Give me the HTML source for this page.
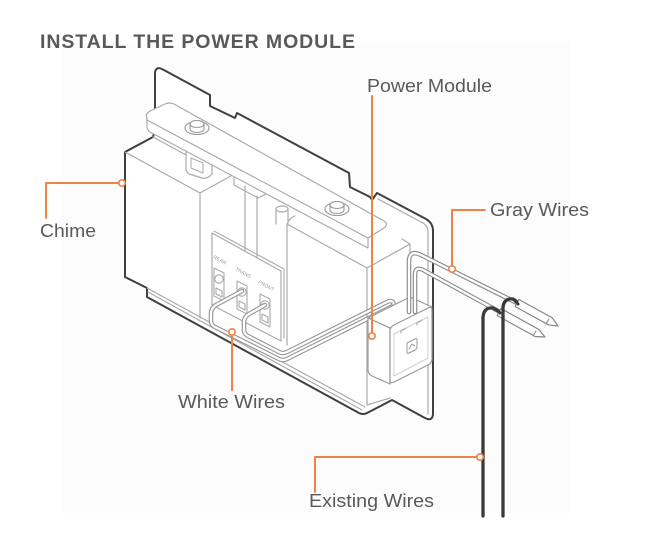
<!DOCTYPE html>
<html><head><meta charset="utf-8">
<style>
html,body{margin:0;padding:0;background:#fff;}
svg{display:block;}
</style></head>
<body>
<svg width="646" height="548" viewBox="0 0 646 548" xmlns="http://www.w3.org/2000/svg">
<rect width="646" height="548" fill="#fff"/>
<rect x="62" y="43" width="508" height="470" fill="#fcfcfc"/>
<text x="40" y="48" font-family="'Liberation Sans', Arial, sans-serif" font-weight="bold" font-size="19.5" fill="#58595b" textLength="315" lengthAdjust="spacing">INSTALL THE POWER MODULE</text>

<g fill="none" stroke-linejoin="round" stroke-linecap="round">
<!-- silhouette: back plate + chime -->
<path d="M155,130 L155,74 Q155,66 162,69 L210,95 L210,106 L235,118 L237,113 L349,173 L350,187 L370,197 L372,200 L377,193 L426,219 Q433,223 433,231 L433,413 Q433,422 425,418 L392,400 L367,413 Q363,415 359,413 L147,297 L147,288 L125,277 L125,152 L153,137 Z" fill="#fff" stroke="#3f3f3f" stroke-width="2"/>

<g stroke="#aaa" stroke-width="1.2">
<path d="M378,199 L423,223 Q428,226 428,232 L428,414"/>
<!-- left box -->
<path d="M125,152 L200,193 L200,318"/>
<path d="M200,193 L238,172"/>
<path d="M153,137 L188,156"/>
<!-- posts -->
<path d="M245,186 L245,251"/>
<path d="M257,196 L257,258"/>
<path d="M234,177 L234,185 L258,198 L266,194"/>
<ellipse cx="282" cy="209" rx="6" ry="3"/>
<path d="M276,209 L276,224 M288,209 L288,222"/>
<!-- right box -->
<path d="M287,345 L287,228 Q287,219 295,216"/>
<path d="M287,224 L367,268 L410,244 L410,300"/>
<path d="M367,268 L367,405"/>
<path d="M410,244 L402,239"/>
<!-- base rim -->
<path d="M147,288 L365,407"/>
<path d="M148,292 L362,410"/>
<path d="M367,405 L390,398"/>
</g>

<!-- U tab -->
<path d="M186,150 L186,169 Q186,172 189,174 L202,178 Q206,179 210,176 L212,174 L212,158" fill="#fff" stroke="#aaa" stroke-width="1.2"/>
<path d="M191,158 L191,168 L203,173 L203,163 Z" stroke="#aaa" stroke-width="1"/>

<!-- bracket -->
<path d="M147,118 Q145,114 150,111 L165,104 Q169,102 174,104 L384,221 Q389,224 384,228 L368,238 L368,248 L150,132 Q147,130 147,126 Z" fill="#fff" stroke="#aaa" stroke-width="1.2"/>
<path d="M147,120 L368,238" stroke="#aaa" stroke-width="1.2"/>

<!-- screws -->
<g transform="translate(197,128)" fill="#fff" stroke="#999" stroke-width="1.1">
 <ellipse rx="12" ry="6.5"/>
 <path d="M-7,1 L-7,-4 A7,3.5 0 0 1 7,-4 L7,1 A7,3.5 0 0 1 -7,1 Z"/>
 <ellipse cy="-4" rx="7" ry="3.5"/>
</g>
<g transform="translate(337,209)" fill="#fff" stroke="#999" stroke-width="1.1">
 <ellipse rx="12" ry="6.5"/>
 <path d="M-7,1 L-7,-4 A7,3.5 0 0 1 7,-4 L7,1 A7,3.5 0 0 1 -7,1 Z"/>
 <ellipse cy="-4" rx="7" ry="3.5"/>
</g>

<!-- terminal plate -->
<path d="M214,231 L284,269 L284,338" stroke="#aaa" stroke-width="1.1"/>
<path d="M212,233 L281,271 L281,341 L212,305 Z" fill="#fff" stroke="#aaa" stroke-width="1.2"/>
<g font-family="'Liberation Sans', Arial, sans-serif" font-size="5" fill="#999" stroke="none">
<text transform="translate(213,258) rotate(29)">REAR</text>
<text transform="translate(235,270) rotate(29)">TRANS</text>
<text transform="translate(258,283) rotate(29)">FRONT</text>
</g>
<g stroke="#aaa" stroke-width="1.1" fill="#fff">
<path d="M214,268 L224,273 L224,301 L214,296 Z"/>
<circle cx="219" cy="279" r="4.2"/>
<path d="M216,288 L222,291 L222,297 L216,294 Z"/>
<path d="M237,281 L247,286 L247,314 L237,309 Z"/>
<circle cx="242" cy="292" r="4.2"/>
<path d="M239,301 L245,304 L245,310 L239,307 Z"/>
<path d="M260,294 L270,299 L270,327 L260,322 Z"/>
<circle cx="265" cy="305" r="4.2"/>
<path d="M262,314 L268,317 L268,323 L262,320 Z"/>
</g>

<!-- white wires -->
<path d="M242,291 L216,305 Q211,308 211,314 L211,321 Q211,325 215,327 L279,359 Q283,361 287,359 L391,307 Q398,303 399,310 L399,318" stroke="#999" stroke-width="4.6"/>
<path d="M242,291 L216,305 Q211,308 211,314 L211,321 Q211,325 215,327 L279,359 Q283,361 287,359 L391,307 Q398,303 399,310 L399,318" stroke="#fff" stroke-width="2.2"/>
<path d="M265,305 L249,314 Q244,317 244,322 L244,330 Q244,334 248,336 L279,352 Q283,354 287,352 L387,302 Q393,299 394,305 L394,316" stroke="#999" stroke-width="4.6"/>
<path d="M265,305 L249,314 Q244,317 244,322 L244,330 Q244,334 248,336 L279,352 Q283,354 287,352 L387,302 Q393,299 394,305 L394,316" stroke="#fff" stroke-width="2.2"/>

<!-- power module -->
<path d="M368,318 L410,297 L432,307 L390,328 Z" fill="#fff" stroke="#999" stroke-width="1.2"/>
<path d="M368,318 L390,328 L390,384 L372,376 Q368,374 368,370 Z" fill="#fff" stroke="#999" stroke-width="1.2"/>
<path d="M390,331 Q390,327 394,325 L428,308 Q432,306 432,310 L432,359 Q432,363 428,365 L394,382 Q390,384 390,380 Z" fill="#fff" stroke="#999" stroke-width="1.2"/>
<path d="M394,334 L428,317 L428,358 L394,376 Z" stroke="#d0d0d0" stroke-width="1"/>
<path d="M401,331 L406,328 M401,331 L401,333 M417,323 L422,320 M417,323 L417,325" stroke="#999" stroke-width="1"/>
<path d="M407,343 L415,339 Q417,338 417,340 L417,347 Q417,349 415,350 L409,353 Q407,354 407,352 Z" stroke="#999" stroke-width="1"/>
<path d="M409,349 L412,344 L415,346" stroke="#999" stroke-width="1"/>

<!-- gray wires -->
<path d="M409,312 L409,262 Q409,249 421,255 L517,303" stroke="#8f8f8f" stroke-width="4.6"/>
<path d="M409,312 L409,262 Q409,249 421,255 L517,303" stroke="#fff" stroke-width="2.2"/>
<path d="M415,312 L415,275 Q415,265 425,271 L500,312" stroke="#8f8f8f" stroke-width="4.6"/>
<path d="M415,312 L415,275 Q415,265 425,271 L500,312" stroke="#fff" stroke-width="2.2"/>

<!-- existing wires -->
<path d="M483,516 L483,317 Q484,307 493,308 L500,312" stroke="#3a3a3a" stroke-width="3.3"/>
<path d="M500.9,308.5 L538.9,329.5 L545,337 L535.1,336.5 L497.1,315.5 Z" fill="#fff" stroke="#888" stroke-width="1.2"/>
<path d="M536,331 L533,336" stroke="#888" stroke-width="1"/>
<path d="M503,516 L503,307 Q504,298 513,299 L519,303" stroke="#3a3a3a" stroke-width="3.3"/>
<path d="M518.9,299.5 L552.2,317.8 L558,326 L548.4,324.8 L515.1,306.5 Z" fill="#fff" stroke="#888" stroke-width="1.2"/>
<path d="M549,319 L546,324" stroke="#888" stroke-width="1"/>
<path d="M497,310 Q499,311 500,313" stroke="#3a3a3a" stroke-width="3"/>
<path d="M515,301 Q517,302 518,304" stroke="#3a3a3a" stroke-width="3"/>

<!-- orange leaders -->
<g stroke="#ef8346" stroke-width="2">
<path d="M118.8,183 L46,183 L46,218"/>
<path d="M372,96 L372,332.8"/>
<path d="M485,210 L452,210 L452,265.8"/>
<path d="M232,335.2 L232,390"/>
<path d="M476.8,457 L315,457 L315,492"/>
</g>
<g fill="#fff" stroke="#ef8346" stroke-width="1.6">
<circle cx="122" cy="183" r="3.2"/>
<circle cx="372" cy="336" r="3.2"/>
<circle cx="452" cy="269" r="3.2"/>
<circle cx="232" cy="332" r="3.2"/>
<circle cx="480" cy="457" r="3.2"/>
</g>
</g>

<!-- labels -->
<g font-family="'Liberation Sans', Arial, sans-serif" font-size="18" fill="#58595b">
<text x="367" y="92" textLength="125" lengthAdjust="spacingAndGlyphs">Power Module</text>
<text x="40" y="237" textLength="56" lengthAdjust="spacingAndGlyphs">Chime</text>
<text x="490" y="216" textLength="99" lengthAdjust="spacingAndGlyphs">Gray Wires</text>
<text x="178" y="408" textLength="107" lengthAdjust="spacingAndGlyphs">White Wires</text>
<text x="309" y="507" textLength="125" lengthAdjust="spacingAndGlyphs">Existing Wires</text>
</g>
</svg>
</body>
</html>
